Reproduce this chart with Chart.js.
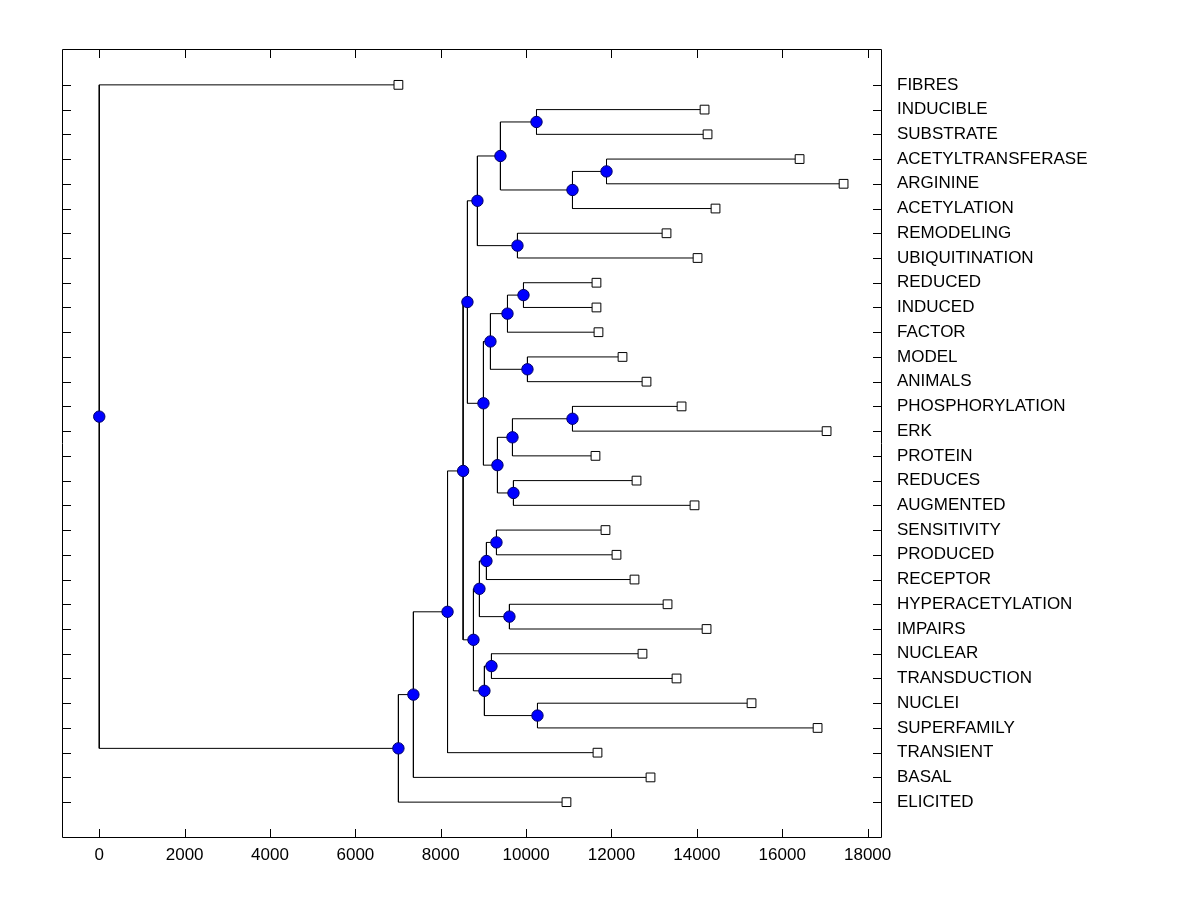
<!DOCTYPE html>
<html>
<head>
<meta charset="utf-8">
<script src="https://cdn.jsdelivr.net/npm/chart.js@4.4.1/dist/chart.umd.min.js"></script>
<style>
  body { margin: 0; background: #fff; }
</style>
</head>
<body>
<canvas id="dendrograma" width="1200" height="900"></canvas>
<script>
// hojas, de arriba a abajo
var leafLabels = ['FIBRES', 'INDUCIBLE', 'SUBSTRATE', 'ACETYLTRANSFERASE', 'ARGININE',
  'ACETYLATION', 'REMODELING', 'UBIQUITINATION', 'REDUCED', 'INDUCED', 'FACTOR',
  'MODEL', 'ANIMALS', 'PHOSPHORYLATION', 'ERK', 'PROTEIN', 'REDUCES', 'AUGMENTED',
  'SENSITIVITY', 'PRODUCED', 'RECEPTOR', 'HYPERACETYLATION', 'IMPAIRS', 'NUCLEAR',
  'TRANSDUCTION', 'NUCLEI', 'SUPERFAMILY', 'TRANSIENT', 'BASAL', 'ELICITED'];
var leafDistance = [7008, 14180, 14250, 16406, 17437, 14437, 13289, 14016, 11648, 11648,
  11695, 12258, 12820, 13641, 17039, 11625, 12586, 13945, 11859, 12117, 12539, 13313,
  14227, 12726, 13523, 15281, 16828, 11672, 12914, 10945];

// uniones: indices 0-29 son hojas, la union k tiene el indice 30 + k
var mergeLeft  = [1, 3, 31, 30, 6, 33, 8, 36, 11, 37, 13, 40, 16, 41, 39, 35, 18, 46, 21, 47, 23, 25, 50, 49, 45, 54, 55, 56, 0];
var mergeRight = [2, 4, 5, 32, 7, 34, 9, 10, 12, 38, 14, 15, 17, 42, 43, 44, 19, 20, 22, 48, 24, 26, 51, 52, 53, 27, 28, 29, 57];
var mergeDistance = [10243, 11883, 11086, 9398, 9797, 8859, 9938, 9563, 10031, 9164,
  11086, 9680, 9703, 9328, 9000, 8625, 9305, 9070, 9609, 8906, 9188, 10266, 9023,
  8766, 8524, 8159, 7359, 7008, 0];

var xTickValues = [0, 2000, 4000, 6000, 8000, 10000, 12000, 14000, 16000, 18000];

var fuente = { family: "'Liberation Sans', Arial, sans-serif", size: 17 };

// posiciones de cada nodo
var nodeX = [], nodeY = [];
leafDistance.forEach(function (d, i) { nodeX.push(d); nodeY.push(i + 1); });
mergeDistance.forEach(function (d, k) {
  nodeX.push(d);
  nodeY.push((nodeY[mergeLeft[k]] + nodeY[mergeRight[k]]) / 2);
});

var datasets = [];
mergeDistance.forEach(function (d, k) {
  var a = mergeLeft[k], b = mergeRight[k];
  datasets.push({
    data: [
      { x: nodeX[a], y: nodeY[a] },
      { x: d, y: nodeY[a] },
      { x: d, y: nodeY[b] },
      { x: nodeX[b], y: nodeY[b] }
    ],
    showLine: true,
    borderColor: '#000',
    borderWidth: 1,
    pointRadius: 0,
    order: 2
  });
});

datasets.push({
  data: leafDistance.map(function (d, i) { return { x: d, y: i + 1 }; }),
  pointStyle: 'rect',
  pointRadius: 6.2,
  backgroundColor: '#fff',
  borderColor: '#000',
  borderWidth: 1,
  order: 0
});
datasets.push({
  data: mergeDistance.map(function (d, k) { return { x: d, y: nodeY[30 + k] }; }),
  pointStyle: 'circle',
  pointRadius: 5.7,
  backgroundColor: '#0000ff',
  borderColor: '#000066',
  borderWidth: 1,
  order: 0
});

var yMin = 1 - 1.45, yMax = leafLabels.length + 1.45;

// marco y marcas hacia adentro
var marco = {
  id: 'marco',
  afterDatasetsDraw: function (chart) {
    var c = chart.ctx, a = chart.chartArea;
    var sx = chart.scales.x, sy = chart.scales.y;
    var t = 9;
    c.save();
    c.strokeStyle = '#000';
    c.lineWidth = 1;
    c.beginPath();
    c.rect(a.left + 0.5, a.top + 0.5, a.right - a.left - 1, a.bottom - a.top - 1);
    xTickValues.forEach(function (v) {
      var px = Math.round(sx.getPixelForValue(v)) + 0.5;
      c.moveTo(px, a.bottom); c.lineTo(px, a.bottom - t);
      c.moveTo(px, a.top); c.lineTo(px, a.top + t);
    });
    leafLabels.forEach(function (l, i) {
      var py = Math.round(sy.getPixelForValue(i + 1)) + 0.5;
      c.moveTo(a.left, py); c.lineTo(a.left + t, py);
      c.moveTo(a.right, py); c.lineTo(a.right - t, py);
    });
    c.stroke();
    c.restore();
  }
};

var miGrafico = new Chart(document.getElementById('dendrograma').getContext('2d'), {
  type: 'scatter',
  data: { datasets: datasets },
  options: {
    responsive: false,
    animation: false,
    devicePixelRatio: 1,
    layout: { padding: { top: 49, left: 0, right: 0, bottom: 0 } },
    plugins: { legend: { display: false }, tooltip: { enabled: false } },
    scales: {
      x: {
        type: 'linear',
        position: 'bottom',
        min: -873,
        max: 18337,
        afterBuildTicks: function (s) { s.ticks = xTickValues.map(function (v) { return { value: v }; }); },
        afterFit: function (s) { s.height = 62; },
        grid: { display: false, drawTicks: false },
        border: { display: false },
        ticks: {
          font: fuente,
          color: '#000',
          padding: 7,
          maxRotation: 0,
          callback: function (v) { return String(v); }
        }
      },
      y: {
        type: 'linear',
        position: 'left',
        reverse: true,
        min: yMin,
        max: yMax,
        afterFit: function (s) { s.width = 62; },
        grid: { display: false, drawTicks: false },
        border: { display: false },
        ticks: { display: false }
      },
      yr: {
        type: 'linear',
        position: 'right',
        reverse: true,
        min: yMin,
        max: yMax,
        afterBuildTicks: function (s) { s.ticks = leafLabels.map(function (l, i) { return { value: i + 1 }; }); },
        afterFit: function (s) { s.width = 318; },
        grid: { display: false, drawTicks: false },
        border: { display: false },
        ticks: {
          font: fuente,
          color: '#000',
          padding: 15,
          autoSkip: false,
          callback: function (v) { return leafLabels[v - 1]; }
        }
      }
    }
  },
  plugins: [marco]
});
</script>
</body>
</html>
